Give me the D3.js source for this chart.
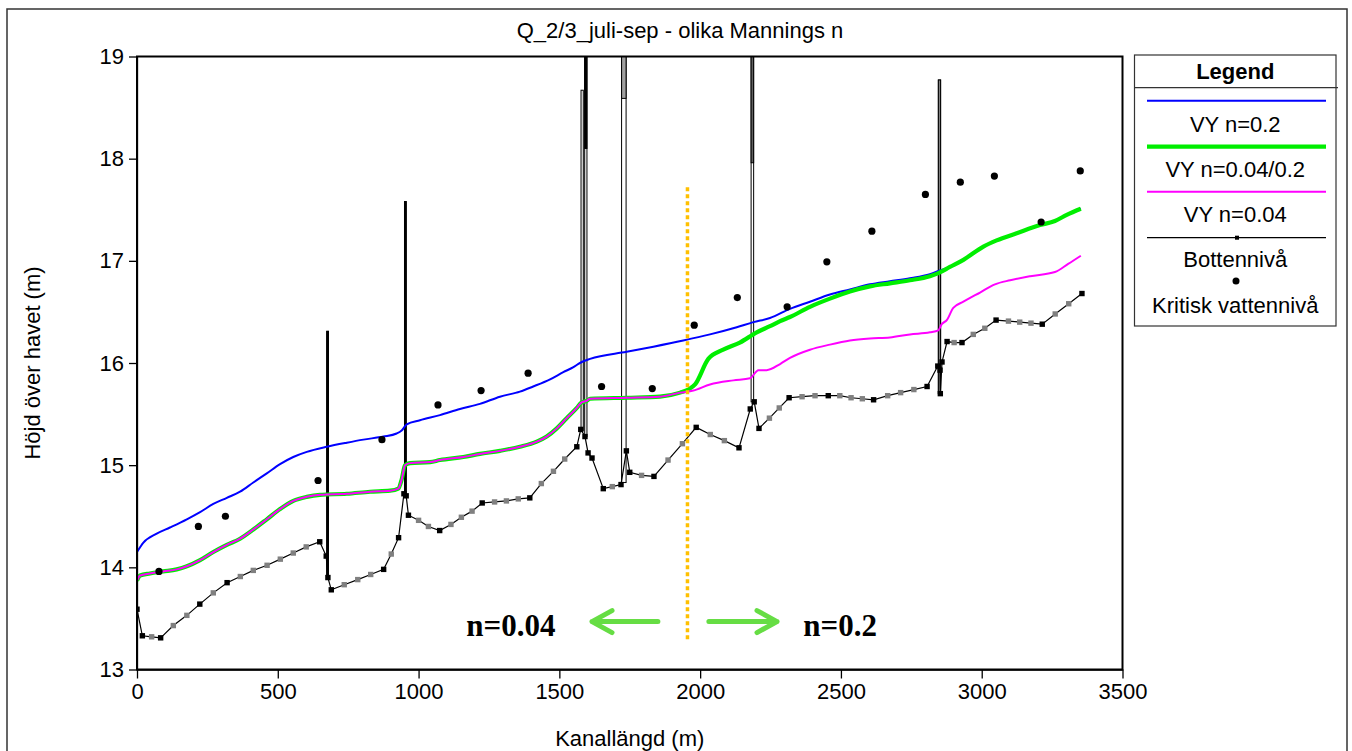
<!DOCTYPE html>
<html><head><meta charset="utf-8">
<script src="https://cdn.jsdelivr.net/npm/d3@7"></script>
<style>
body{margin:0;background:#fff}
svg{display:block}
text{font-family:"Liberation Sans",Arial,sans-serif;fill:#000}
</style>
</head><body>
<svg id="c" width="1352" height="751"></svg>
<script>
// ---------------- DATA ----------------
const titleText = "Q_2/3_juli-sep - olika Mannings n";
const xLabel = "Kanallängd (m)";
const yLabel = "Höjd över havet (m)";
const xTicks = [0,500,1000,1500,2000,2500,3000,3500];
const yTicks = [13,14,15,16,17,18,19];

const seriesNames = ["VY n=0.2","VY n=0.04/0.2","VY n=0.04","Bottennivå","Kritisk vattennivå"];

// VY n=0.2
const blueX = [0,22,70,117,177,224,271,319,366,413,461,508,555,603,674,745,804,875,922,940,958,1005,1076,1147,1218,1289,1360,1407,1467,1514,1550,1573,1609,1739,1834,1940,2035,2130,2189,2248,2319,2390,2461,2532,2603,2674,2745,2816,2846,2887,2935,3006,3053,3124,3207,3260,3302,3352];
const blueY = [14.15,14.24,14.33,14.39,14.47,14.54,14.62,14.68,14.74,14.83,14.92,15.01,15.08,15.13,15.18,15.22,15.25,15.28,15.31,15.34,15.40,15.44,15.49,15.55,15.60,15.67,15.72,15.77,15.84,15.91,15.96,16.00,16.04,16.11,16.16,16.22,16.28,16.35,16.40,16.44,16.53,16.60,16.67,16.72,16.77,16.80,16.83,16.87,16.90,16.94,17.01,17.14,17.20,17.27,17.35,17.39,17.45,17.51];

// VY n=0.04
const pinkX = [0,11,46,93,141,177,224,271,319,366,413,461,508,555,603,650,745,828,899,928,940,952,970,1041,1076,1159,1218,1289,1360,1420,1455,1491,1526,1562,1577,1597,1609,1739,1857,1929,1976,2035,2118,2177,2207,2236,2284,2319,2390,2461,2532,2603,2674,2745,2816,2846,2858,2876,2899,2935,2994,3047,3101,3172,3260,3307,3352];
const pinkY = [13.87,13.92,13.94,13.96,13.98,14.01,14.07,14.15,14.22,14.28,14.37,14.47,14.57,14.65,14.69,14.71,14.72,14.74,14.75,14.77,14.86,15.00,15.02,15.03,15.05,15.08,15.11,15.14,15.18,15.23,15.28,15.36,15.46,15.56,15.61,15.63,15.65,15.66,15.67,15.71,15.73,15.79,15.83,15.85,15.93,15.93,15.99,16.05,16.13,16.18,16.22,16.24,16.25,16.28,16.30,16.32,16.38,16.42,16.54,16.60,16.69,16.77,16.81,16.85,16.89,16.97,17.05];

// VY n=0.04/0.2
const greenX = [0,11,46,93,141,177,224,271,319,366,413,461,508,555,603,650,745,828,899,928,940,952,970,1041,1076,1159,1218,1289,1360,1420,1455,1491,1526,1562,1577,1597,1609,1739,1857,1929,1958,1982,2029,2082,2141,2201,2248,2284,2319,2390,2461,2532,2603,2674,2745,2816,2846,2887,2935,3006,3053,3124,3207,3260,3302,3352];
const greenY = [13.87,13.92,13.94,13.96,13.98,14.01,14.07,14.15,14.22,14.28,14.37,14.47,14.57,14.65,14.69,14.71,14.72,14.74,14.75,14.77,14.86,15.00,15.02,15.03,15.05,15.08,15.11,15.14,15.18,15.23,15.28,15.36,15.46,15.56,15.61,15.63,15.65,15.66,15.67,15.71,15.74,15.79,16.04,16.13,16.20,16.30,16.36,16.41,16.45,16.55,16.63,16.70,16.75,16.78,16.81,16.85,16.88,16.94,17.01,17.14,17.20,17.27,17.35,17.39,17.45,17.51];

// Bottennivå (kind 1 = measured section, 0 = interpolated)
const bottomX = [0,19,52,84,129,177,223,271,320,367,413,462,509,555,601,649,672,678,690,736,784,830,876,903,929,948,956,964,1000,1035,1075,1115,1152,1190,1226,1270,1312,1354,1395,1436,1479,1519,1562,1576,1591,1602,1616,1656,1688,1719,1738,1750,1792,1836,1886,1937,1986,2036,2086,2138,2178,2192,2209,2246,2281,2316,2362,2408,2455,2496,2536,2576,2616,2666,2712,2759,2806,2844,2852,2853,2859,2877,2902,2930,2970,3011,3051,3095,3135,3175,3215,3261,3309,3356];
const bottomY = [13.59,13.33,13.32,13.31,13.43,13.53,13.64,13.75,13.85,13.91,13.97,14.02,14.08,14.14,14.20,14.25,14.11,13.90,13.78,13.83,13.88,13.93,13.98,14.13,14.29,14.72,14.70,14.51,14.46,14.40,14.36,14.42,14.49,14.55,14.63,14.64,14.65,14.67,14.68,14.82,14.94,15.06,15.18,15.35,15.28,15.12,15.07,14.77,14.79,14.81,15.14,14.93,14.90,14.89,15.05,15.21,15.37,15.30,15.24,15.17,15.55,15.62,15.36,15.46,15.56,15.66,15.67,15.68,15.68,15.68,15.66,15.65,15.64,15.68,15.71,15.74,15.77,15.97,15.93,15.70,16.01,16.21,16.20,16.20,16.28,16.34,16.42,16.41,16.40,16.39,16.38,16.48,16.58,16.68];
const bottomKind = [1,1,0,1,0,0,1,0,1,0, 0,0,0,0,0,1,1,1,1,0, 0,0,1,0,1,1,1,1,0,0, 1,0,0,0,1,0,0,0,1,0, 0,0,1,1,1,1,1,1,0,1, 1,1,0,1,0,0,1,0,0,1, 1,1,1,0,0,1,0,0,1,0, 0,0,1,0,0,0,1,1,1,1, 1,1,0,1,0,0,1,0,0,0, 1,0,0,1];

// Kritisk vattennivå
const critX = [78,218,314,643,870,1069,1222,1389,1650,1830,1979,2132,2309,2450,2610,2800,2924,3045,3211,3350];
const critY = [13.96,14.40,14.50,14.85,15.25,15.59,15.73,15.90,15.77,15.75,16.37,16.64,16.55,16.99,17.29,17.65,17.77,17.83,17.38,17.88];

// Structures (bridges / weirs) : chainage start/end, bottom, top, level down to which the top is filled
const structX0 = [674,950,1577,1590,1721,2181,2846];
const structX1 = [680,956,1585,1598,1737,2190,2854];
const structBottom = [13.90,14.72,15.34,15.28,14.83,15.62,15.70];
const structTop = [16.31,17.58,18.67,19.6,19.6,19.6,18.77];
const structFillTo = [13.90,14.72,18.67,18.10,18.59,17.96,15.70];

// Annotations
const boundaryX = 1955;
const boundaryY = [13.29,17.72];
const annoLabels = ["n=0.04","n=0.2"];
const annoLabelX = [1328,2497];
const annoY = 13.43;
const arrowFrom = [1850,2031];
const arrowTo = [1616,2273];

// ---------------- DRAW ----------------
const svg = d3.select("#c");
const x = d3.scaleLinear().domain([0,3500]).range([137,1122.5]);
const y = d3.scaleLinear().domain([13,19]).range([669.5,56.5]);

const C = {blue:"#0000ff", green:"#00ee00", pink:"#ff00ff", gray:"#808080", orange:"#ffc000", arrow:"#66dd44"};
const structFill = ["#000","#000","#fff","#000","#a0a0a0","#606060","#808080"];

svg.append("rect").attr("x",7).attr("y",9).attr("width",1340).attr("height",770)
  .attr("fill","none").attr("stroke","#333").attr("stroke-width",1.5);

svg.append("text").attr("x",680).attr("y",38).attr("text-anchor","middle")
  .style("font-size","22px").text(titleText);

svg.append("defs").append("clipPath").attr("id","clip").append("rect")
  .attr("x",x(0)).attr("y",y(19)).attr("width",x(3500)-x(0)).attr("height",y(13)-y(19));

// axes
const fs = "22px";
const gx = svg.append("g").attr("transform",`translate(0,${y(13)})`);
gx.call(d3.axisBottom(x).tickValues(d3.range(0,3501,100)).tickSize(6).tickSizeOuter(0).tickFormat(""));
gx.call(d3.axisBottom(x).tickValues(xTicks).tickSize(9).tickSizeOuter(0).tickPadding(5).tickFormat(d3.format("d")));
gx.selectAll("text").style("font-size",fs).attr("font-family",null);
gx.selectAll("path,line").attr("stroke","#000").attr("stroke-width",1.3);

const gy = svg.append("g").attr("transform",`translate(${x(0)},0)`);
gy.call(d3.axisLeft(y).tickValues(d3.range(13,19.001,0.2)).tickSize(4).tickSizeOuter(0).tickFormat(""));
gy.call(d3.axisLeft(y).tickValues(yTicks).tickSize(8).tickSizeOuter(0).tickPadding(5).tickFormat(d3.format("d")));
gy.selectAll("text").style("font-size",fs).attr("font-family",null);
gy.selectAll("path,line").attr("stroke","#000").attr("stroke-width",1.3);

svg.append("text").attr("x",(x(0)+x(3500))/2).attr("y",746).attr("text-anchor","middle")
  .style("font-size",fs).text(xLabel);
svg.append("text").attr("transform",`translate(40,${(y(13)+y(19))/2}) rotate(-90)`)
  .attr("text-anchor","middle").style("font-size",fs).text(yLabel);

const plot = svg.append("g").attr("clip-path","url(#clip)");

// structures
structX0.forEach((x0,i)=>{
  const g = plot.append("g");
  g.append("rect").attr("x",x(x0)).attr("y",y(structTop[i]))
    .attr("width",x(structX1[i])-x(x0)).attr("height",y(structBottom[i])-y(structTop[i]))
    .attr("fill","#fff").attr("stroke","#000").attr("stroke-width",1);
  g.append("rect").attr("x",x(x0)).attr("y",y(structTop[i]))
    .attr("width",x(structX1[i])-x(x0)).attr("height",y(structFillTo[i])-y(structTop[i]))
    .attr("fill",structFill[i]).attr("stroke","#000").attr("stroke-width",1);
});

const line = d3.line().x(d=>x(d[0])).y(d=>y(d[1])).curve(d3.curveMonotoneX);
const zip = (a,b)=>a.map((v,i)=>[v,b[i]]);

plot.append("path").datum(zip(blueX,blueY)).attr("d",line)
  .attr("fill","none").attr("stroke",C.blue).attr("stroke-width",2);
plot.append("path").datum(zip(greenX,greenY)).attr("d",line)
  .attr("fill","none").attr("stroke",C.green).attr("stroke-width",4.2);
plot.append("path").datum(zip(pinkX,pinkY)).attr("d",line)
  .attr("fill","none").attr("stroke",C.pink).attr("stroke-width",2);

const bot = zip(bottomX,bottomY);
plot.append("path").datum(bot).attr("d",d3.line().x(d=>x(d[0])).y(d=>y(d[1])))
  .attr("fill","none").attr("stroke","#000").attr("stroke-width",1.2);
plot.selectAll("rect.bm").data(bot).join("rect").attr("class","bm")
  .attr("x",d=>x(d[0])-2.7).attr("y",d=>y(d[1])-2.7).attr("width",5.4).attr("height",5.4)
  .attr("fill",(d,i)=>bottomKind[i]?"#000":C.gray);

plot.selectAll("circle.cr").data(zip(critX,critY)).join("circle").attr("class","cr")
  .attr("cx",d=>x(d[0])).attr("cy",d=>y(d[1])).attr("r",3.6).attr("fill","#000");

// plot frame
svg.append("rect").attr("x",x(0)).attr("y",y(19)).attr("width",x(3500)-x(0)).attr("height",y(13)-y(19))
  .attr("fill","none").attr("stroke","#000").attr("stroke-width",2);

// annotations
svg.append("line").attr("x1",x(boundaryX)).attr("x2",x(boundaryX))
  .attr("y1",y(boundaryY[1])).attr("y2",y(boundaryY[0]))
  .attr("stroke",C.orange).attr("stroke-width",3.5).attr("stroke-dasharray","4,3");
annoLabels.forEach((t,i)=>{
  svg.append("text").attr("x",x(annoLabelX[i])).attr("y",y(annoY)).attr("dy","0.35em")
    .attr("text-anchor","middle").style("font-family","'Liberation Serif','Times New Roman',serif")
    .style("font-weight","bold").style("font-size","31px").text(t);
});
arrowFrom.forEach((f,i)=>{
  const x1=x(f), x2=x(arrowTo[i]), yy=y(annoY)-4, dir=Math.sign(x2-x1);
  svg.append("path").attr("d",`M${x1},${yy}L${x2},${yy}M${x2-dir*20},${yy-11}L${x2},${yy}L${x2-dir*20},${yy+11}`)
    .attr("fill","none").attr("stroke",C.arrow).attr("stroke-width",5)
    .attr("stroke-linecap","round").attr("stroke-linejoin","round");
});

// legend
const L = svg.append("g");
const lx0=1134.5, lx1=1336, ly0=55, ly1=326;
L.append("rect").attr("x",lx0).attr("y",ly0).attr("width",lx1-lx0).attr("height",ly1-ly0)
  .attr("fill","#fff").attr("stroke","#333").attr("stroke-width",1.2);
L.append("line").attr("x1",lx0).attr("x2",lx1+2).attr("y1",87.7).attr("y2",87.7)
  .attr("stroke","#333").attr("stroke-width",1.2);
L.append("text").attr("x",(lx0+lx1)/2).attr("y",71).attr("dy","0.35em").attr("text-anchor","middle")
  .style("font-size","22px").style("font-weight","bold").text("Legend");
const lineYs=[100.7,146.7,191.7,237.7];
const textYs=[124,169,214,259,305];
const lcol=[C.blue,C.green,C.pink,"#000"], lw=[2,4.2,2,1.3];
lineYs.forEach((ly,i)=>{
  L.append("line").attr("x1",1147).attr("x2",1326).attr("y1",ly).attr("y2",ly)
    .attr("stroke",lcol[i]).attr("stroke-width",lw[i]);
});
L.append("rect").attr("x",1235).attr("y",lineYs[3]-2).attr("width",4).attr("height",4).attr("fill","#000");
L.append("circle").attr("cx",1236).attr("cy",281).attr("r",3.5).attr("fill","#000");
seriesNames.forEach((t,i)=>{
  L.append("text").attr("x",(lx0+lx1)/2).attr("y",textYs[i]).attr("dy","0.35em")
    .attr("text-anchor","middle").style("font-size",fs).text(t);
});
</script>
</body></html>
